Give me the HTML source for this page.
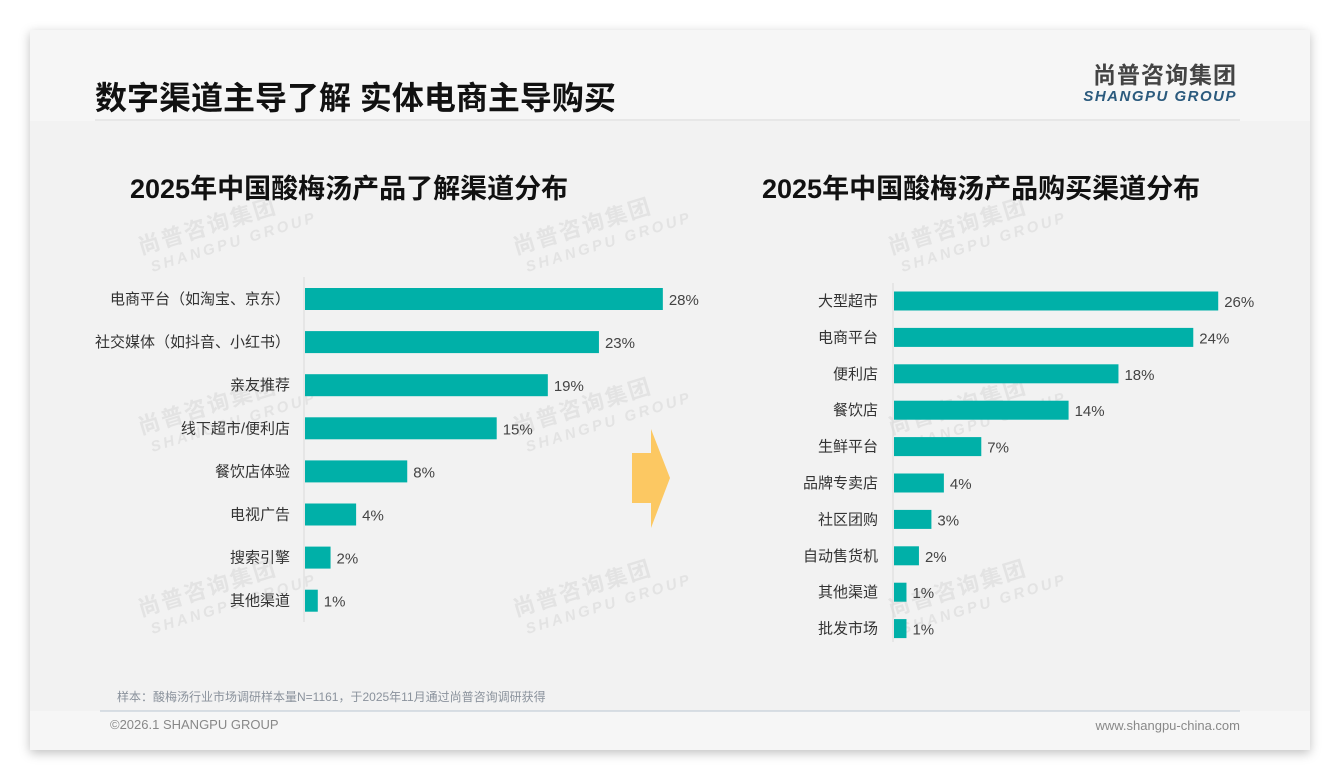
<!DOCTYPE html>
<html><head><meta charset="utf-8">
<style>
body{margin:0;width:1340px;height:780px;background:#fff;overflow:hidden;font-family:"Liberation Sans","Noto Sans CJK SC",sans-serif;}
#slide{position:absolute;left:30px;top:30px;width:1280px;height:720px;background:#f6f6f6;box-shadow:0 3px 10px rgba(0,0,0,0.25);}
</style></head><body>
<div id="slide"></div>
<svg width="1340" height="780" style="position:absolute;left:0;top:0">
<rect x="30" y="121" width="1280" height="590" fill="#f2f2f2"/>
<line x1="95" y1="120" x2="1240" y2="120" stroke="#e2e2e2" stroke-width="1.5"/>
<line x1="100" y1="711" x2="1240" y2="711" stroke="#b9c6d3" stroke-width="1"/>
<text x="95" y="109" font-size="32" font-weight="bold" fill="#111" font-family="Liberation Sans,Noto Sans CJK SC,sans-serif">数字渠道主导了解 实体电商主导购买</text>
<text x="1237" y="83" text-anchor="end" font-size="23" font-weight="bold" fill="#444" letter-spacing="1" font-family="Liberation Sans,Noto Sans CJK SC,sans-serif">尚普咨询集团</text>
<text x="1237" y="101" text-anchor="end" font-size="15" font-weight="bold" font-style="italic" fill="#2b5a7d" letter-spacing="1.5" font-family="Liberation Sans,sans-serif">SHANGPU GROUP</text>
<g id="wm" fill="#e3e3e3" font-weight="bold" font-family="Liberation Sans,Noto Sans CJK SC,sans-serif"></g>
<text x="130" y="198" font-size="27" font-weight="bold" fill="#111" font-family="Liberation Sans,Noto Sans CJK SC,sans-serif">2025年中国酸梅汤产品了解渠道分布</text>
<text x="762" y="198" font-size="27" font-weight="bold" fill="#111" font-family="Liberation Sans,Noto Sans CJK SC,sans-serif">2025年中国酸梅汤产品购买渠道分布</text>
<polygon points="632,453 651,453 651,429 670,478 651,528 651,503 632,503" fill="#fcc862"/>
<g id="left"></g><g id="right"></g>
<text x="117" y="701" font-size="12" fill="#8a929c" font-family="Liberation Sans,Noto Sans CJK SC,sans-serif">样本：酸梅汤行业市场调研样本量N=1161，于2025年11月通过尚普咨询调研获得</text>
<text x="110" y="729" font-size="13" fill="#888" font-family="Liberation Sans,sans-serif">©2026.1 SHANGPU GROUP</text>
<text x="1240" y="730" text-anchor="end" font-size="13" fill="#888" font-family="Liberation Sans,sans-serif">www.shangpu-china.com</text>
</svg>
<script>
const leftCats=["电商平台（如淘宝、京东）","社交媒体（如抖音、小红书）","亲友推荐","线下超市/便利店","餐饮店体验","电视广告","搜索引擎","其他渠道"];
const leftVals=[28,23,19,15,8,4,2,1];
const rightCats=["大型超市","电商平台","便利店","餐饮店","生鲜平台","品牌专卖店","社区团购","自动售货机","其他渠道","批发市场"];
const rightVals=[26,24,18,14,7,4,3,2,1,1];
const NS="http://www.w3.org/2000/svg";
function mk(t,a,p){const e=document.createElementNS(NS,t);for(const k in a)e.setAttribute(k,a[k]);p.appendChild(e);return e;}
function draw(g,cats,vals,x0,pxPer,y0,step,bh,axTop,axBot,labRight,side){
  const ax=mk('line',{x1:x0,x2:x0,y1:axTop,y2:axBot,stroke:'#d9d9d9','stroke-width':1},g);
  
  
  cats.forEach((c,i)=>{
    const cy=y0+i*step, w=vals[i]*pxPer;
    const r=mk('rect',{x:x0+1,y:cy-bh/2,width:w,height:bh,fill:'#00b0a8'},g);
    
    
    const l=mk('text',{x:labRight,y:cy+5,'text-anchor':'end','font-size':15,fill:'#333','font-family':'Liberation Sans,Noto Sans CJK SC,sans-serif'},g);
    l.textContent=c;
    
    
    const v=mk('text',{x:x0+w+7,y:cy+6,'font-size':15,fill:'#444','font-family':'Liberation Sans,sans-serif'},g);
    v.textContent=vals[i]+'%';
    
    
  });
}
draw(document.getElementById('left'),leftCats,leftVals,304,12.78,299,43.1,22,277,622,290,'left');
draw(document.getElementById('right'),rightCats,rightVals,893,12.47,301,36.4,19,283,642,878,'right');
const wm=document.getElementById('wm');
[[145,268],[520,268],[895,268],[145,448],[520,448],[895,448],[145,630],[520,630],[895,630]].forEach(p=>{
  const g=mk('g',{transform:`translate(${p[0]},${p[1]}) rotate(-17)`},wm);
  
  
  const a=mk('text',{x:0,y:-14,'font-size':22,'letter-spacing':2},g);a.textContent='尚普咨询集团';
  const b=mk('text',{x:6,y:6,'font-size':15,'font-style':'italic','letter-spacing':3},g);b.textContent='SHANGPU GROUP';
});
</script>
</body></html>
